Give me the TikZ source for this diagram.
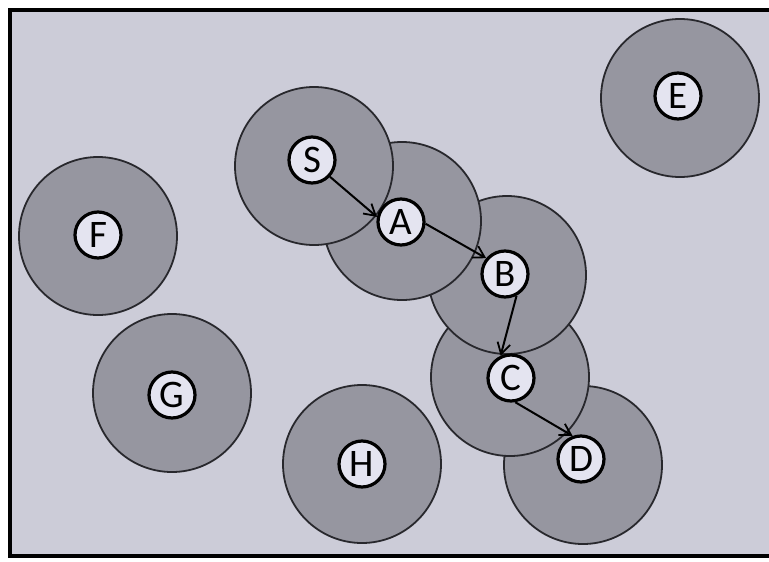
\documentclass[tikz,border=0pt]{standalone}
\usepackage{fontspec}
\setmainfont{Carlito}
\usetikzlibrary{arrows.meta}
\definecolor{bgc}{RGB}{204,204,216}
\definecolor{rangec}{RGB}{150,150,160}
\definecolor{nodec}{RGB}{228,228,240}
\definecolor{edgec}{RGB}{40,40,45}
\tikzset{
  rangedisk/.style={circle, draw=edgec, line width=1.8pt, fill=rangec, minimum size=158pt, inner sep=0pt},
  host/.style={circle, draw=black, line width=3.2pt, fill=nodec, minimum size=46pt, inner sep=0pt, font=\fontsize{39}{39}\selectfont},
  hop/.style={line width=2pt, draw=black, -{Straight Barb[length=11pt,width=13pt,line width=1.8pt]}}
}
\begin{document}
\begin{tikzpicture}[x=1pt,y=-1pt]
\useasboundingbox (0,0) rectangle (769,562);
\fill[bgc] (10,10) rectangle (769,556);
\draw[line width=3.2pt,black] (769,10) -- (10,10) -- (10,556) -- (769,556);
% range disks
\node[rangedisk] (rE) at (680,98) {};
\node[rangedisk] (rF) at (98,236) {};
\node[rangedisk] (rG) at (172,393) {};
\node[rangedisk] (rH) at (362,464) {};
\node[rangedisk] (rD) at (583,465) {};
\node[rangedisk] (rC) at (510,377) {};
\node[rangedisk] (rB) at (507,275) {};
\node[rangedisk] (rA) at (402,221) {};
\node[rangedisk] (rS) at (314,166) {};
% hosts
\node[host] (S) at (312,160) {S};
\node[host] (A) at (401,222) {A};
\node[host] (B) at (505,274) {B};
\node[host] (C) at (511,378) {C};
\node[host] (D) at (581,459) {D};
\node[host] (E) at (678,96) {E};
\node[host] (F) at (98,235) {F};
\node[host] (G) at (172,395) {G};
\node[host] (H) at (362,464) {H};
% route
\draw[hop] (S.-43) -- (A.168);
\draw[hop] (A.-4) -- (B.140);
\draw[hop] (B.-62) -- (C.115);
\draw[hop] (C.-80) -- (D.110);
\end{tikzpicture}
\end{document}
